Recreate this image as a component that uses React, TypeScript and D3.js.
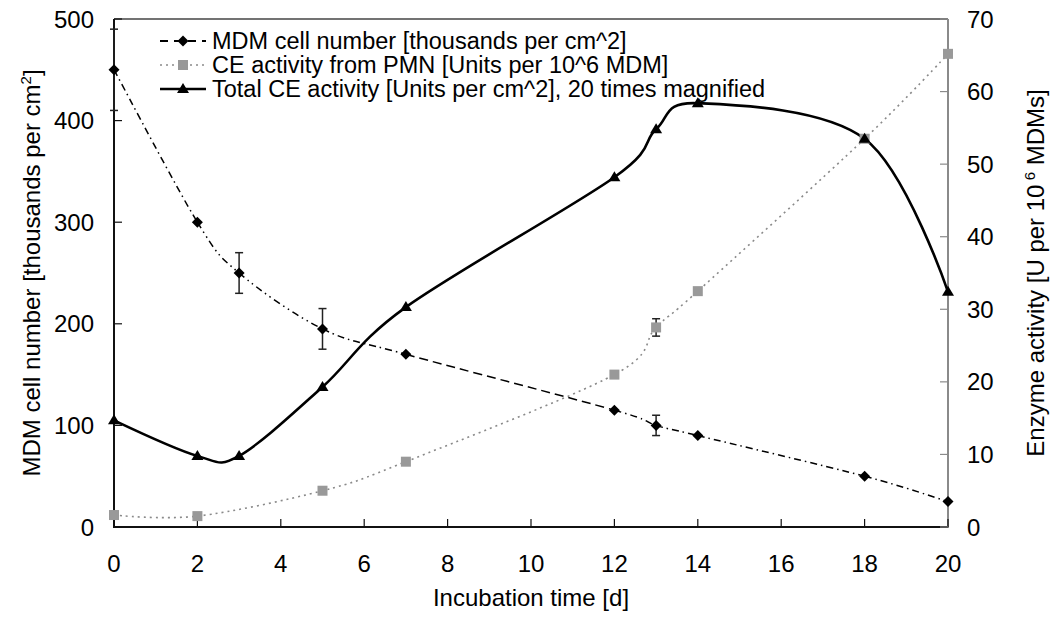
import React from 'react';
import * as d3 from 'd3';

// ---------- data ----------
const days = [0, 2, 3, 5, 7, 12, 13, 14, 18, 20];
const mdmCells = [450, 300, 250, 195, 170, 115, 100, 90, 50, 25];
const mdmErrors = [40, 0, 20, 20, 0, 0, 10, 0, 0, 0];

const ceDays = [0, 2, 5, 7, 12, 13, 14, 18, 20];
const ceActivity = [1.65, 1.5, 5.0, 9.0, 21.0, 27.5, 32.5, 53.5, 65.2];
const ceErrors = [0, 0, 0, 0, 0, 1.2, 0, 0, 0];

const totalDays = [0, 2, 3, 5, 7, 12, 13, 14, 18, 20];
const totalCE = [14.7, 9.8, 9.8, 19.3, 30.3, 48.2, 54.8, 58.4, 53.5, 32.4];

const xTicks = [0, 2, 4, 6, 8, 10, 12, 14, 16, 18, 20];
const leftTicks = [0, 100, 200, 300, 400, 500];
const rightTicks = [0, 10, 20, 30, 40, 50, 60, 70];

const legendLabels = [
  'MDM cell number [thousands per cm^2]',
  'CE activity from PMN [Units per 10^6 MDM]',
  'Total CE activity [Units per cm^2], 20 times magnified',
];

// ---------- styles ----------
const W = 1055;
const H = 622;
const plot = { left: 114, right: 948, top: 19, bottom: 527 };
const FONT = '"Liberation Sans", Arial, sans-serif';
const FS = 24;
const FS_LEGEND = 23.5;
const GRAY = '#999999';
const AXIS_GRAY = '#8a8a8a';
// dash style for each MDM segment (between consecutive points)
const DASH_DOT = '7,4,1.5,4';
const DASH_DOT_DOT = '7,4,1.5,4,1.5,4';
const LONG_DASH = '9,5';
const mdmSegmentDash = [DASH_DOT, DASH_DOT_DOT, DASH_DOT_DOT, DASH_DOT, LONG_DASH, DASH_DOT, DASH_DOT, DASH_DOT, DASH_DOT];

const x = d3.scaleLinear().domain([0, 20]).range([plot.left, plot.right]);
const yL = d3.scaleLinear().domain([0, 500]).range([plot.bottom, plot.top]);
const yR = d3.scaleLinear().domain([0, 70]).range([plot.bottom, plot.top]);

type P = [number, number];

// Catmull-Rom (uniform) segments, returns one path per segment
function crSegments(pts: P[]): string[] {
  const out: string[] = [];
  for (let i = 0; i < pts.length - 1; i++) {
    const p0 = pts[Math.max(0, i - 1)];
    const p1 = pts[i];
    const p2 = pts[i + 1];
    const p3 = pts[Math.min(pts.length - 1, i + 2)];
    const c1: P = [p1[0] + (p2[0] - p0[0]) / 6, p1[1] + (p2[1] - p0[1]) / 6];
    const c2: P = [p2[0] - (p3[0] - p1[0]) / 6, p2[1] - (p3[1] - p1[1]) / 6];
    const path = d3.path();
    path.moveTo(p1[0], p1[1]);
    path.bezierCurveTo(c1[0], c1[1], c2[0], c2[1], p2[0], p2[1]);
    out.push(path.toString());
  }
  return out;
}

const smoothLine = d3
  .line<P>()
  .x((d) => d[0])
  .y((d) => d[1])
  .curve(d3.curveCardinal.tension(0));

function Diamond({ cx, cy, r = 5.5 }: { cx: number; cy: number; r?: number }) {
  return <path d={`M${cx},${cy - r}L${cx + r},${cy}L${cx},${cy + r}L${cx - r},${cy}Z`} fill="#000" />;
}
function Square({ cx, cy, s = 10 }: { cx: number; cy: number; s?: number }) {
  return <rect x={cx - s / 2} y={cy - s / 2} width={s} height={s} fill={GRAY} />;
}
function Triangle({ cx, cy, w = 12, h = 10 }: { cx: number; cy: number; w?: number; h?: number }) {
  return <path d={`M${cx},${cy - h * 0.6}L${cx + w / 2},${cy + h * 0.4}L${cx - w / 2},${cy + h * 0.4}Z`} fill="#000" />;
}

function ErrorBar({ cx, y1, y2, color = '#222' }: { cx: number; y1: number; y2: number; color?: string }) {
  return (
    <g stroke={color} strokeWidth={1.5}>
      <line x1={cx} x2={cx} y1={y1} y2={y2} />
      <line x1={cx - 4} x2={cx + 4} y1={y1} y2={y1} />
      <line x1={cx - 4} x2={cx + 4} y1={y2} y2={y2} />
    </g>
  );
}

export default function App() {
  const mdmPts: P[] = days.map((d, i) => [x(d), yL(mdmCells[i])]);
  const cePts: P[] = ceDays.map((d, i) => [x(d), yR(ceActivity[i])]);
  const totPts: P[] = totalDays.map((d, i) => [x(d), yR(totalCE[i])]);
  const mdmSegs = crSegments(mdmPts);

  const legendY = [41, 65, 89];
  const lgX0 = 160;
  const lgX1 = 206;
  const lgXm = 183;

  return (
    <svg width={W} height={H} style={{ position: 'absolute', left: 0, top: 0, background: '#fff' }} fontFamily={FONT}>
      <rect x={0} y={0} width={W} height={H} fill="#fff" />

      {/* frame */}
      <line x1={plot.left} x2={plot.right} y1={plot.top} y2={plot.top} stroke="#444" strokeWidth={1.5} />
      <line x1={plot.right} x2={plot.right} y1={plot.top} y2={plot.bottom + 1} stroke={AXIS_GRAY} strokeWidth={2} />
      <line x1={plot.left} x2={plot.right} y1={plot.bottom} y2={plot.bottom} stroke="#111" strokeWidth={2} />
      <line x1={plot.left} x2={plot.left} y1={plot.top} y2={plot.bottom + 1} stroke="#111" strokeWidth={2} />

      {/* x ticks */}
      {xTicks.map((t) => (
        <g key={'x' + t}>
          <line x1={x(t)} x2={x(t)} y1={plot.bottom} y2={plot.bottom - 8} stroke="#111" strokeWidth={1.2} />
          <text x={x(t)} y={563} dy="0.36em" textAnchor="middle" fontSize={FS} fill="#000">
            {t}
          </text>
        </g>
      ))}
      {/* left ticks */}
      {leftTicks.map((t) => (
        <g key={'l' + t}>
          <line x1={plot.left} x2={plot.left + 8} y1={yL(t)} y2={yL(t)} stroke="#111" strokeWidth={1.2} />
          <text x={94} y={yL(t)} dy="0.36em" textAnchor="end" fontSize={FS} fill="#000">
            {t}
          </text>
        </g>
      ))}
      {/* right ticks */}
      {rightTicks.map((t) => (
        <g key={'r' + t}>
          <line x1={plot.right} x2={plot.right - 8} y1={yR(t)} y2={yR(t)} stroke={AXIS_GRAY} strokeWidth={1.2} />
          <text x={967} y={yR(t)} dy="0.36em" textAnchor="start" fontSize={FS} fill="#000">
            {t}
          </text>
        </g>
      ))}

      {/* axis titles */}
      <text x={531} y={606} textAnchor="middle" fontSize={FS} fill="#000">
        Incubation time [d]
      </text>
      <text transform={`translate(40,${(plot.top + plot.bottom) / 2}) rotate(-90)`} textAnchor="middle" fontSize={FS} fill="#000">
        MDM cell number [thousands per cm
        <tspan dy={-9} fontSize={15}>2</tspan>
        <tspan dy={9}>]</tspan>
      </text>
      <text transform={`translate(1044,${(plot.top + plot.bottom) / 2}) rotate(-90)`} textAnchor="middle" fontSize={FS} fill="#000">
        Enzyme activity [U per 10
        <tspan dy={-9} fontSize={15}> 6</tspan>
        <tspan dy={9}> MDMs]</tspan>
      </text>

      {/* CE activity from PMN: dotted gray */}
      <path d={smoothLine(cePts) || ''} fill="none" stroke={AXIS_GRAY} strokeWidth={1.6} strokeDasharray="2,4" />

      {/* MDM: segmented dashed */}
      {mdmSegs.map((d, i) => (
        <path key={'m' + i} d={d} fill="none" stroke="#000" strokeWidth={1.5} strokeDasharray={mdmSegmentDash[i]} />
      ))}

      {/* Total CE: solid */}
      <path d={smoothLine(totPts) || ''} fill="none" stroke="#000" strokeWidth={2.6} />

      {/* error bars */}
      {days.map((d, i) =>
        mdmErrors[i] > 0 ? (
          <ErrorBar key={'em' + i} cx={x(d)} y1={yL(mdmCells[i] + mdmErrors[i])} y2={yL(mdmCells[i] - mdmErrors[i])} />
        ) : null
      )}
      {ceDays.map((d, i) =>
        ceErrors[i] > 0 ? (
          <ErrorBar key={'ec' + i} cx={x(d)} y1={yR(ceActivity[i] + ceErrors[i])} y2={yR(ceActivity[i] - ceErrors[i])} />
        ) : null
      )}

      {/* markers */}
      {cePts.map((p, i) => (
        <Square key={'s' + i} cx={p[0]} cy={p[1]} />
      ))}
      {mdmPts.map((p, i) => (
        <Diamond key={'d' + i} cx={p[0]} cy={p[1]} />
      ))}
      {totPts.map((p, i) => (
        <Triangle key={'t' + i} cx={p[0]} cy={p[1]} />
      ))}

      {/* legend */}
      <g>
        <line x1={lgX0} x2={lgX1} y1={legendY[0]} y2={legendY[0]} stroke="#000" strokeWidth={1.8} strokeDasharray="8,6" />
        <Diamond cx={lgXm} cy={legendY[0]} />
        <line x1={lgX0} x2={lgX1} y1={legendY[1]} y2={legendY[1]} stroke={AXIS_GRAY} strokeWidth={1.6} strokeDasharray="2,4" />
        <Square cx={lgXm} cy={legendY[1]} />
        <line x1={lgX0} x2={lgX1} y1={legendY[2]} y2={legendY[2]} stroke="#000" strokeWidth={2.6} />
        <Triangle cx={lgXm} cy={legendY[2]} />
        {legendLabels.map((l, i) => (
          <text key={'lg' + i} x={212} y={legendY[i]} dy="0.36em" fontSize={FS_LEGEND} fill="#000">
            {l}
          </text>
        ))}
      </g>
    </svg>
  );
}
